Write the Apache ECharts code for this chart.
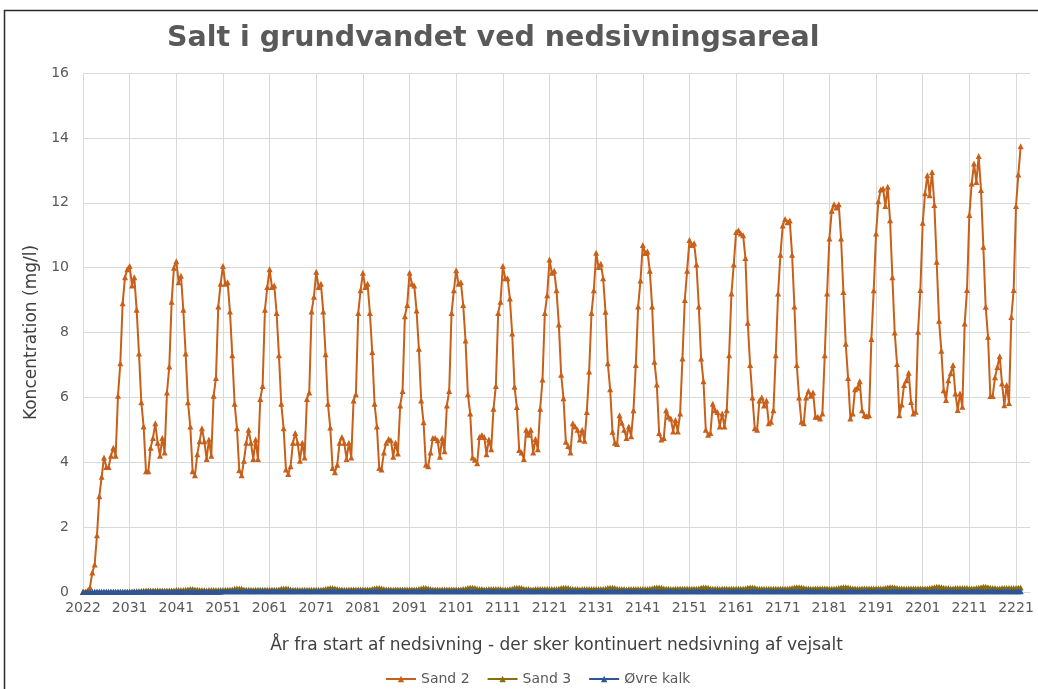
<!DOCTYPE html>
<html>
<head>
<meta charset="utf-8">
<script src="https://cdn.jsdelivr.net/npm/echarts@6/dist/echarts.min.js"></script>
<style>
html,body{margin:0;padding:0;background:#fff;}
#c{width:1038px;height:689px;}
</style>
</head>
<body>
<div id="c"></div>
<script>
// Tick labels shown every 20 half-year steps
var tickLabels = ['2022','2031','2041','2051','2061','2071','2081','2091','2101','2111','2121','2131','2141','2151','2161','2171','2181','2191','2201','2211','2221'];

var sand2 = [
0,0,0.05,0.15,0.6,0.85,1.75,2.95,3.55,4.15,
3.85,3.85,4.2,4.45,4.2,6.05,7.05,8.9,9.7,9.95,
10.05,9.45,9.7,8.7,7.35,5.85,5.1,3.72,3.72,4.45,
4.75,5.2,4.6,4.2,4.75,4.3,6.15,6.95,8.95,10.0,
10.2,9.55,9.75,8.7,7.35,5.85,5.1,3.72,3.6,4.25,
4.65,5.05,4.65,4.1,4.7,4.2,6.05,6.6,8.8,9.5,
10.05,9.5,9.55,8.65,7.3,5.8,5.05,3.75,3.6,4.05,
4.6,5.0,4.6,4.1,4.7,4.1,5.95,6.35,8.7,9.4,
9.95,9.4,9.45,8.6,7.3,5.8,5.05,3.78,3.64,3.88,
4.6,4.9,4.6,4.05,4.6,4.15,5.95,6.15,8.65,9.1,
9.87,9.4,9.5,8.65,7.33,5.8,5.07,3.82,3.69,3.92,
4.6,4.78,4.6,4.1,4.6,4.15,5.9,6.1,8.6,9.3,
9.84,9.4,9.5,8.6,7.4,5.8,5.1,3.82,3.78,4.3,
4.6,4.72,4.68,4.17,4.6,4.27,5.75,6.2,8.5,8.85,
9.84,9.5,9.45,8.68,7.5,5.9,5.23,3.92,3.88,4.3,
4.75,4.75,4.68,4.17,4.75,4.34,5.75,6.2,8.6,9.3,
9.92,9.5,9.55,8.85,7.75,6.1,5.5,4.15,4.08,3.97,
4.78,4.84,4.78,4.25,4.7,4.4,5.65,6.35,8.6,8.95,
10.05,9.67,9.67,9.05,7.97,6.33,5.7,4.38,4.3,4.1,
5.0,4.85,5.0,4.3,4.72,4.4,5.65,6.55,8.6,9.15,
10.25,9.84,9.9,9.3,8.25,6.7,5.97,4.63,4.5,4.3,
5.2,5.1,5.0,4.7,5.0,4.66,5.55,6.8,8.6,9.3,
10.46,10.02,10.12,9.67,8.64,7.05,6.25,4.94,4.6,4.56,
5.45,5.22,5.0,4.75,5.1,4.8,5.6,7.0,8.8,9.6,
10.7,10.45,10.5,9.9,8.8,7.1,6.4,4.9,4.7,4.75,
5.6,5.4,5.35,4.95,5.3,4.95,5.5,7.2,9.0,9.9,
10.85,10.7,10.75,10.1,8.8,7.2,6.5,5.0,4.85,4.9,
5.8,5.6,5.55,5.1,5.5,5.1,5.6,7.3,9.2,10.1,
11.1,11.15,11.05,11.0,10.3,8.3,7.0,6.0,5.05,5.0,
5.9,6.0,5.75,5.9,5.2,5.25,5.6,7.3,9.2,10.4,
11.3,11.5,11.4,11.45,10.4,8.8,7.0,6.0,5.25,5.2,
6.0,6.2,6.05,6.15,5.4,5.4,5.35,5.5,7.3,9.2,
10.9,11.75,11.95,11.85,11.95,10.9,9.25,7.65,6.6,5.35,
5.5,6.25,6.3,6.5,5.6,5.45,5.42,5.45,7.8,9.3,
11.05,12.05,12.41,12.44,11.9,12.49,11.46,9.7,8.0,7.03,
5.45,5.78,6.38,6.53,6.76,5.86,5.5,5.56,8.02,9.31,
11.38,12.29,12.85,12.23,12.95,11.93,10.18,8.36,7.44,6.22,
5.92,6.53,6.74,7.0,6.12,5.61,6.12,5.71,8.28,9.31,
11.62,12.59,13.21,12.64,13.44,12.39,10.64,8.79,7.87,6.04,
6.04,6.62,6.94,7.27,6.43,5.76,6.38,5.83,8.48,9.31,
11.9,12.87,13.74
];

var sand3 = [
0,0,0,0,0,0,0,0,0,0,0,0,0,0,0,0,0,0,0,0,
0.01,0.01,0.02,0.02,0.02,0.03,0.04,0.05,0.05,0.05,0.05,0.05,0.05,0.05,0.05,0.05,0.05,0.05,0.05,0.05,
0.06,0.06,0.06,0.06,0.07,0.08,0.09,0.09,0.08,0.07,0.06,0.06,0.06,0.05,0.06,0.06,0.06,0.06,0.06,0.06,
0.06,0.07,0.07,0.07,0.08,0.10,0.11,0.11,0.10,0.08,0.07,0.07,0.07,0.06,0.07,0.07,0.07,0.07,0.07,0.07,
0.07,0.07,0.07,0.07,0.08,0.10,0.11,0.11,0.10,0.08,0.07,0.07,0.07,0.06,0.07,0.07,0.07,0.07,0.07,0.07,
0.07,0.07,0.07,0.08,0.09,0.11,0.12,0.12,0.11,0.09,0.08,0.08,0.07,0.07,0.08,0.08,0.08,0.08,0.08,0.08,
0.08,0.08,0.08,0.08,0.09,0.11,0.12,0.12,0.11,0.09,0.08,0.08,0.08,0.07,0.08,0.08,0.08,0.08,0.08,0.08,
0.08,0.08,0.08,0.08,0.09,0.11,0.12,0.12,0.11,0.09,0.08,0.08,0.08,0.07,0.08,0.08,0.08,0.08,0.08,0.08,
0.08,0.08,0.08,0.09,0.10,0.12,0.13,0.13,0.12,0.10,0.09,0.09,0.08,0.08,0.09,0.09,0.09,0.09,0.09,0.09,
0.08,0.08,0.08,0.09,0.10,0.12,0.13,0.13,0.12,0.10,0.09,0.09,0.08,0.08,0.09,0.09,0.09,0.09,0.09,0.09,
0.09,0.09,0.09,0.09,0.10,0.12,0.13,0.13,0.12,0.10,0.09,0.09,0.09,0.08,0.09,0.09,0.09,0.09,0.09,0.09,
0.09,0.09,0.09,0.09,0.10,0.12,0.13,0.13,0.12,0.10,0.09,0.09,0.09,0.08,0.09,0.09,0.09,0.09,0.09,0.09,
0.09,0.09,0.09,0.10,0.11,0.13,0.14,0.14,0.13,0.11,0.10,0.10,0.09,0.09,0.10,0.10,0.10,0.10,0.10,0.10,
0.10,0.10,0.10,0.10,0.11,0.13,0.14,0.14,0.13,0.11,0.10,0.10,0.10,0.09,0.10,0.10,0.10,0.10,0.10,0.10,
0.10,0.10,0.10,0.10,0.11,0.13,0.14,0.14,0.13,0.11,0.10,0.10,0.10,0.09,0.10,0.10,0.10,0.10,0.10,0.10,
0.10,0.10,0.10,0.11,0.12,0.14,0.15,0.15,0.14,0.12,0.11,0.11,0.10,0.10,0.11,0.11,0.11,0.11,0.11,0.11,
0.10,0.10,0.10,0.11,0.12,0.14,0.15,0.15,0.14,0.12,0.11,0.11,0.10,0.10,0.11,0.11,0.11,0.11,0.11,0.11,
0.11,0.11,0.11,0.11,0.12,0.14,0.15,0.15,0.14,0.12,0.11,0.11,0.11,0.10,0.11,0.11,0.11,0.11,0.11,0.11,
0.11,0.11,0.11,0.12,0.13,0.15,0.16,0.16,0.15,0.13,0.12,0.12,0.11,0.11,0.12,0.12,0.12,0.12,0.12,0.12,
0.11,0.11,0.11,0.12,0.13,0.15,0.16,0.16,0.15,0.13,0.12,0.12,0.11,0.11,0.12,0.12,0.12,0.12,0.12,0.12,
0.12,0.13,0.14
];

var ovreKalk = [
0,0,0,0,0,0.01,0.01,0.01,0.01,0.01,0.01,0.01,0.01,0.01,0.01,0.01,0.01,0.01,0.01,0.01,
0.01,0.01,0.01,0.01,0.01,0.01,0.01,0.01,0.01,0.01,0.01,0.01,0.01,0.01,0.01,0.01,0.01,0.01,0.01,0.01,
0.01,0.01,0.01,0.01,0.01,0.01,0.01,0.01,0.01,0.01,0.01,0.01,0.01,0.01,0.01,0.01,0.01,0.01,0.01,0.01,
0.02,0.02,0.02,0.02,0.02,0.02,0.02,0.02,0.02,0.02,0.02,0.02,0.02,0.02,0.02,0.02,0.02,0.02,0.02,0.02,
0.02,0.02,0.02,0.02,0.02,0.02,0.02,0.02,0.02,0.02,0.02,0.02,0.02,0.02,0.02,0.02,0.02,0.02,0.02,0.02,
0.02,0.02,0.02,0.02,0.02,0.02,0.02,0.02,0.02,0.02,0.02,0.02,0.02,0.02,0.02,0.02,0.02,0.02,0.02,0.02,
0.02,0.02,0.02,0.02,0.02,0.02,0.02,0.02,0.02,0.02,0.02,0.02,0.02,0.02,0.02,0.02,0.02,0.02,0.02,0.02,
0.02,0.02,0.02,0.02,0.02,0.02,0.02,0.02,0.02,0.02,0.02,0.02,0.02,0.02,0.02,0.02,0.02,0.02,0.02,0.02,
0.02,0.02,0.02,0.02,0.02,0.02,0.02,0.02,0.02,0.02,0.02,0.02,0.02,0.02,0.02,0.02,0.02,0.02,0.02,0.02,
0.02,0.02,0.02,0.02,0.02,0.02,0.02,0.02,0.02,0.02,0.02,0.02,0.02,0.02,0.02,0.02,0.02,0.02,0.02,0.02,
0.02,0.02,0.02,0.02,0.02,0.02,0.02,0.02,0.02,0.02,0.02,0.02,0.02,0.02,0.02,0.02,0.02,0.02,0.02,0.02,
0.02,0.02,0.02,0.02,0.02,0.02,0.02,0.02,0.02,0.02,0.02,0.02,0.02,0.02,0.02,0.02,0.02,0.02,0.02,0.02,
0.02,0.02,0.02,0.02,0.02,0.02,0.02,0.02,0.02,0.02,0.02,0.02,0.02,0.02,0.02,0.02,0.02,0.02,0.02,0.02,
0.02,0.02,0.02,0.02,0.02,0.02,0.02,0.02,0.02,0.02,0.02,0.02,0.02,0.02,0.02,0.02,0.02,0.02,0.02,0.02,
0.02,0.02,0.02,0.02,0.02,0.02,0.02,0.02,0.02,0.02,0.02,0.02,0.02,0.02,0.02,0.02,0.02,0.02,0.02,0.02,
0.02,0.02,0.02,0.02,0.02,0.02,0.02,0.02,0.02,0.02,0.02,0.02,0.02,0.02,0.02,0.02,0.02,0.02,0.02,0.02,
0.02,0.02,0.02,0.02,0.02,0.02,0.02,0.02,0.02,0.02,0.02,0.02,0.02,0.02,0.02,0.02,0.02,0.02,0.02,0.02,
0.02,0.02,0.02,0.02,0.02,0.02,0.02,0.02,0.02,0.02,0.02,0.02,0.02,0.02,0.02,0.02,0.02,0.02,0.02,0.02,
0.02,0.02,0.02,0.02,0.02,0.02,0.02,0.02,0.02,0.02,0.02,0.02,0.02,0.02,0.02,0.02,0.02,0.02,0.02,0.02,
0.02,0.02,0.02,0.02,0.02,0.02,0.02,0.02,0.02,0.02,0.02,0.02,0.02,0.02,0.02,0.02,0.02,0.02,0.02,0.02,
0.02,0.02,0.02
];

var seriesNames = ['Sand 2','Sand 3','Øvre kalk'];
var seriesColors = ['#C8601A','#8C6D0A','#2F5597'];

// half-year steps; a few extra empty slots so the plot runs a little past the last label
var categories = [];
for (var i = 0; i < 407; i++) categories.push(String(i));

var chart = echarts.init(document.getElementById('c'), null, {renderer:'canvas'});
var font = 'DejaVu Sans, Verdana, sans-serif';
function mk(name, data, color, z) {
  return {
    name: name, type: 'line', data: data, z: z,
    symbol: 'triangle', symbolSize: 6, showAllSymbol: true,
    itemStyle: {color: color},
    lineStyle: {color: color, width: 2},
    emphasis: {disabled: true}
  };
}
chart.setOption({
  animation: false,
  backgroundColor: '#fff',
  title: {
    text: 'Salt i grundvandet ved nedsivningsareal',
    left: 162, top: 19,
    textStyle: {fontFamily: font, fontWeight: 'bold', fontSize: 28.5, color: '#595959'}
  },
  graphic: [{
    type: 'rect', silent: true,
    shape: {x: 4.5, y: 10.5, width: 1200, height: 1000},
    style: {fill: 'none', stroke: '#2a2a2a', lineWidth: 1.5}
  }],
  grid: {left: 83, right: 8, top: 73, bottom: 97},
  legend: {
    data: seriesNames,
    left: 380, top: 667,
    itemWidth: 30, itemHeight: 8, itemGap: 17,
    textStyle: {fontFamily: font, fontSize: 14, color: '#595959'}
  },
  xAxis: {
    type: 'category', data: categories, boundaryGap: false,
    name: 'År fra start af nedsivning - der sker kontinuert nedsivning af vejsalt',
    nameLocation: 'middle', nameGap: 45,
    nameTextStyle: {fontFamily: font, fontSize: 17, color: '#404040'},
    axisLine: {show: true, lineStyle: {color: '#D9D9D9', width: 1}},
    axisTick: {show: false},
    axisLabel: {
      interval: 19, margin: 9,
      fontFamily: font, fontSize: 14, color: '#595959',
      formatter: function (v, idx) { return idx % 20 === 0 && tickLabels[idx / 20] ? tickLabels[idx / 20] : ''; }
    },
    splitLine: {show: true, interval: 19, lineStyle: {color: '#D9D9D9', width: 1}}
  },
  yAxis: {
    type: 'value', min: 0, max: 16, interval: 2,
    name: 'Koncentration (mg/l)',
    nameLocation: 'middle', nameGap: 40,
    nameTextStyle: {fontFamily: font, fontSize: 17, color: '#404040'},
    axisLine: {show: false},
    axisTick: {show: false},
    axisLabel: {margin: 14, fontFamily: font, fontSize: 14, color: '#595959'},
    splitLine: {show: true, lineStyle: {color: '#D9D9D9', width: 1}}
  },
  series: [
    mk(seriesNames[0], sand2, seriesColors[0], 2),
    mk(seriesNames[1], sand3, seriesColors[1], 3),
    mk(seriesNames[2], ovreKalk, seriesColors[2], 4)
  ]
});
</script>
</body>
</html>
